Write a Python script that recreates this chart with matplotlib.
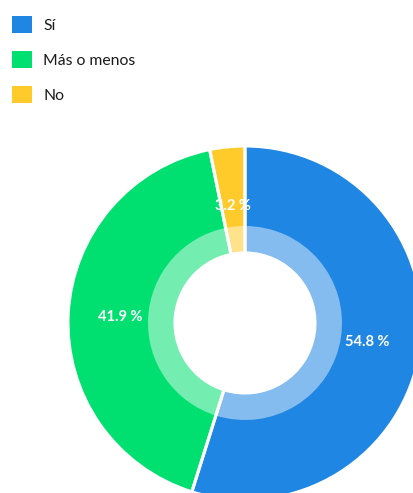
import numpy as np
import matplotlib
matplotlib.use("Agg")
import matplotlib.pyplot as plt
from matplotlib.patches import Patch

# Survey answers and their shares (%)
categories = ["Sí", "Más o menos", "No"]
shares = [54.8, 41.9, 3.2]
label_texts = ["54.8 %", "41.9 %", "3.2 %"]
colors = ["#1F86E3", "#00E070", "#FFCB2B"]

plt.rcParams["font.family"] = ["Lato", "DejaVu Sans"]

W, H = 414, 493
fig = plt.figure(figsize=(W / 100, H / 100), dpi=100)
ax = fig.add_axes([0, 0, 1, 1])

cx, cy = 245, H - 323
r_out, r_mid, r_in = 177, 97, 70
common = dict(startangle=90, counterclock=False, center=(cx, cy), normalize=True)

# Light tint across the whole ring
ax.pie(shares, colors=colors, radius=r_out,
       wedgeprops=dict(width=r_out - r_in, linewidth=0, alpha=0.55), **common)
# Full colour on the outer band
wedges, _ = ax.pie(shares, colors=colors, radius=r_out,
                   wedgeprops=dict(width=r_out - r_mid, linewidth=0), **common)
# White separators between the slices
ax.pie(shares, colors=["none"] * len(shares), radius=r_out,
       wedgeprops=dict(width=r_out - r_in, edgecolor="white", linewidth=2.2,
                       facecolor="none"), **common)

ax.set_xlim(0, W)
ax.set_ylim(0, H)
ax.set_aspect("equal")
ax.axis("off")

# Percentage labels placed at the middle of each wedge
label_r = [124, 125, 118]
for w, txt, rr in zip(wedges, label_texts, label_r):
    ang = np.deg2rad((w.theta1 + w.theta2) / 2)
    ax.text(cx + rr * np.cos(ang), cy + rr * np.sin(ang), txt,
            ha="center", va="center", color="white", fontsize=10.5,
            fontweight="bold")

handles = [Patch(facecolor=c, edgecolor="none") for c in colors]
fig.legend(handles, categories, loc="upper left",
           bbox_to_anchor=(12 / W, 1 - 16 / H), frameon=False, borderpad=0,
           borderaxespad=0, fontsize=11.3, handlelength=1.3, handleheight=1.3,
           handletextpad=0.7, labelspacing=1.15, labelcolor="#1a1a1a")

fig.savefig("out.png", dpi=100)
